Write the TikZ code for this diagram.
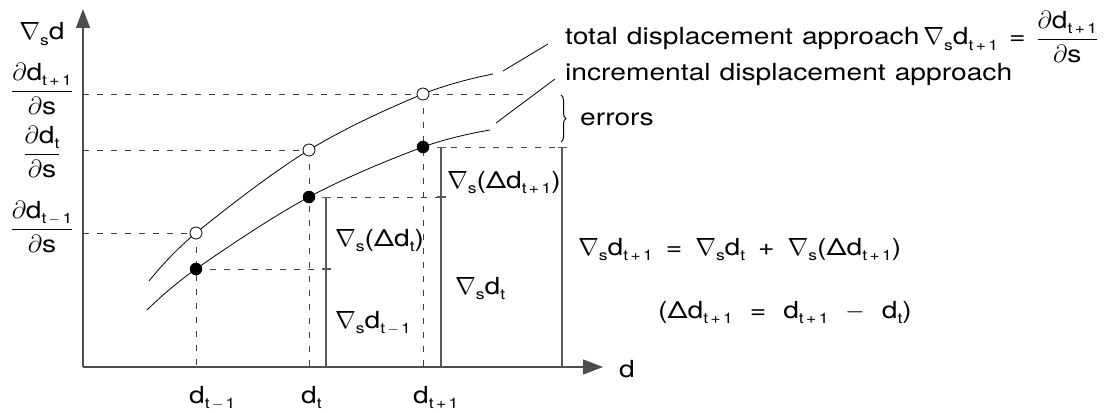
\documentclass[tikz,border=0pt]{standalone}
\usepackage{fontspec}
\setmainfont[FakeStretch=1.2]{TeX Gyre Heros}
\usetikzlibrary{arrows.meta,decorations.pathreplacing}
\newcommand\nab{$\nabla$}
\newcommand\pd{$\partial$}
\newcommand\lo[1]{\raisebox{-0.45ex}{\fontsize{14.5}{14.5}\selectfont #1}}
\newcommand\fr[1]{$\displaystyle\frac{\mbox{\pd d#1}}{\mbox{\pd s}}$}
\newcommand\tp{t\,+\,1}
\newcommand\tm{t\,$-$\,1}
\newcommand\gap{\hspace{11pt}}
\newcommand\egap{\hspace{13pt}}
\newcommand\fgap{\hspace{17pt}}
\newcommand\wgap{\hspace{9pt}}
\begin{document}
\begin{tikzpicture}[x=1pt,y=-1pt,
  font=\fontsize{23.5}{27}\selectfont,
  axisline/.style={line width=1.1pt,draw=black!70},
  dashline/.style={line width=0.8pt,draw=black!75,dash pattern=on 6pt off 8pt},
  curveline/.style={line width=0.8pt,draw=black},
  bracket/.style={line width=1.1pt,draw=black!65,{Bar[width=9pt]}-{Bar[width=9pt]}},
  tickmark/.style={line width=1.1pt,draw=black!65},
  opendot/.style={circle,draw=black,line width=0.8pt,fill=white,inner sep=0pt,minimum size=12pt},
  fulldot/.style={circle,fill=black,inner sep=0pt,minimum size=12.5pt},
  lbl/.style={inner sep=0pt}]
\useasboundingbox (0,0) rectangle (1110,412);
% axes
\coordinate (O) at (83,367);
\coordinate (ytop) at (83,9);
\coordinate (xend) at (603,367);
\draw[axisline,-{Triangle[length=19pt,width=14pt]}] (O) -- (ytop);
\draw[axisline,-{Triangle[length=20pt,width=15pt]}] (O) -- (xend);
% dots
\coordinate (u1) at (196,233);
\coordinate (u2) at (309,150);
\coordinate (u3) at (423,94);
\coordinate (f1) at (196,269);
\coordinate (f2) at (309,197);
\coordinate (f3) at (423,147);
% axis points
\coordinate (y94) at (83,94);
\coordinate (y150) at (83,150);
\coordinate (y233) at (83,233);
\coordinate (x1) at (196,367);
\coordinate (x2) at (309,367);
\coordinate (x3) at (423,367);
\coordinate (e94) at (525,94);
\coordinate (e147) at (557,147);
\coordinate (e197) at (446,197);
\coordinate (e269) at (331,269);
% dashed lines
\draw[dashline] (y94) -- (e94);
\draw[dashline] (y150) -- (u2);
\draw[dashline] (y233) -- (u1);
\draw[dashline] (f3) -- (e147);
\draw[dashline] (f2) -- (e197);
\draw[dashline] (f1) -- (e269);
\draw[dashline] (u1) -- (x1);
\draw[dashline] (u2) -- (x2);
\draw[dashline] (u3) -- (x3);
% vertical brackets
\coordinate (b1t) at (326,197); \coordinate (b1b) at (326,367); \coordinate (b1m) at (326,269);
\coordinate (b2t) at (441,147); \coordinate (b2b) at (441,367); \coordinate (b2m) at (441,197);
\coordinate (b3t) at (562,147); \coordinate (b3b) at (562,367);
\draw[bracket] (b1t) -- (b1b);
\draw[bracket] (b2t) -- (b2b);
\draw[bracket] (b3t) -- (b3b);
\draw[tickmark] ([xshift=-4.5pt]b1m) -- ([xshift=4.5pt]b1m);
\draw[tickmark] ([xshift=-4.5pt]b2m) -- ([xshift=4.5pt]b2m);
% curves
\draw[curveline] plot[smooth,tension=0.6] coordinates {(149,281) (196,233) (309,150) (423,94) (493,74)};
\draw[curveline] plot[smooth,tension=0.6] coordinates {(147,310) (196,269) (309,197) (423,147) (490,130)};
% leaders
\coordinate (l1a) at (503,71); \coordinate (l1b) at (548,44);
\coordinate (l2a) at (496,123); \coordinate (l2b) at (555,79);
\draw[curveline] (l1a) -- (l1b);
\draw[curveline] (l2a) -- (l2b);
% dots
\node[opendot] (U1) at (u1) {};
\node[opendot] (U2) at (u2) {};
\node[opendot] (U3) at (u3) {};
\node[fulldot] (F1) at (f1) {};
\node[fulldot] (F2) at (f2) {};
\node[fulldot] (F3) at (f3) {};
% brace
\coordinate (br1) at (561,95); \coordinate (br2) at (561,142);
\draw[line width=1pt,decorate,decoration={brace,amplitude=5pt}] (br1) -- (br2);
% labels
\node[lbl,anchor=base] (ylab) at (42,40) {\nab\lo{s}d};
\node[lbl,anchor=base] (fr1) at (42,97) {\fr{\lo{\tp}}};
\node[lbl,anchor=base] (fr2) at (42,160) {\fr{\lo{t}}};
\node[lbl,anchor=base] (fr3) at (42,235) {\fr{\lo{\tm}}};
\node[lbl,anchor=base] (xl1) at (197,403) {d\rlap{\lo{\tm}}};
\node[lbl,anchor=base] (xl2) at (309,403) {d\rlap{\lo{t}}};
\node[lbl,anchor=base] (xl3) at (421,403) {d\rlap{\lo{\tp}}};
\node[lbl,anchor=base] (xlab) at (627,377) {d};
\node[lbl,anchor=base west] (m1) at (447,188) {\nab\lo{s}(Δd\lo{\tp})};
\node[lbl,anchor=base west] (m2) at (335,246) {\nab\lo{s}(Δd\lo{t})};
\node[lbl,anchor=base west] (m3) at (335,328) {\nab\lo{s}d\lo{\tm}};
\node[lbl,anchor=base west] (m4) at (455,294) {\nab\lo{s}d\lo{t}};
\node[lbl,anchor=base west] (tot) at (565,45) {total\wgap displacement\wgap approach\,\nab\lo{s}d\lo{\tp}\gap=\gap\fr{\lo{\tp}}};
\node[lbl,anchor=base west] (inc) at (565,81) {incremental\wgap displacement\wgap approach};
\node[lbl,anchor=base west] (err) at (580,125) {errors};
\node[lbl,anchor=base west] (eq1) at (578,255) {\nab\lo{s}d\lo{\tp}\egap=\egap\nab\lo{s}d\lo{t}\egap+\egap\nab\lo{s}(Δd\lo{\tp})};
\node[lbl,anchor=base west] (eq2) at (658,318) {(Δd\lo{\tp}\fgap=\fgap d\lo{\tp}\fgap$-$\fgap d\lo{t})};
\end{tikzpicture}
\end{document}
